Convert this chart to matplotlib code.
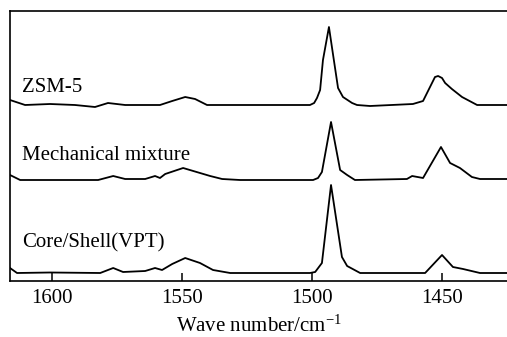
import matplotlib
matplotlib.use('Agg')
import matplotlib.pyplot as plt
import numpy as np

plt.rcParams['font.family'] = ['Liberation Serif', 'DejaVu Serif']
plt.rcParams['mathtext.fontset'] = 'custom'
plt.rcParams['mathtext.rm'] = 'Liberation Serif'
plt.rcParams['mathtext.it'] = 'Liberation Serif:italic'

# ZSM-5 spectrum (wavenumber, relative absorbance)
zsm_wn = [1616.2, 1610.4, 1600.8, 1591.2, 1583.5, 1578.5, 1571.9, 1558.5, 1553.8, 1548.8,
          1545.0, 1540.4, 1523.8, 1500.8, 1499.2, 1498.1, 1496.9, 1495.8, 1493.5, 1491.9,
          1490.0, 1488.1, 1484.6, 1482.7, 1477.7, 1461.2, 1457.3, 1452.7, 1451.5, 1450.0,
          1448.8, 1446.2, 1442.3, 1436.5, 1425.0]
zsm_abs = [5, 0, 1, 0, -2, 2, 0, 0, 4, 8,
           6, 0, 0, 0, 2, 7, 15, 45, 78, 50,
           17, 8, 2, 0, -1, 1, 4, 28, 29, 27,
           22, 16, 8, 0, 0]

# Mechanical mixture spectrum
mech_wn = [1616.2, 1612.3, 1582.3, 1576.5, 1571.9, 1564.2, 1560.4, 1558.5, 1556.5, 1549.6,
           1539.2, 1534.6, 1527.7, 1499.6, 1497.7, 1496.2, 1492.7, 1489.2, 1486.5, 1483.5,
           1463.5, 1461.5, 1457.3, 1450.4, 1446.9, 1443.1, 1438.5, 1435.4, 1425.0]
mech_abs = [5, 0, 0, 4, 1, 1, 4, 2, 6, 12,
            4, 1, 0, 0, 2, 8, 58, 10, 5, 0,
            1, 4, 2, 33, 17, 12, 3, 1, 1]

# Core/Shell(VPT) spectrum
core_wn = [1616.2, 1613.5, 1600.8, 1581.5, 1576.5, 1572.7, 1564.2, 1560.4, 1557.7, 1553.8,
           1548.8, 1543.1, 1538.1, 1531.5, 1500.8, 1498.8, 1496.2, 1492.7, 1488.5, 1486.5,
           1481.5, 1456.5, 1450.0, 1445.8, 1441.9, 1435.4, 1425.0]
core_abs = [5, 0, 0.5, 0, 5, 1, 2, 5, 3, 9,
            15, 10, 3, 0, 0, 1, 10, 88, 16, 7,
            0, 0, 18, 6, 4, 0, 0]

names = ['ZSM-5', 'Mechanical mixture', 'Core/Shell(VPT)']
offsets = [176, 101, 8]
label_y = [189, 121, 34]

fig = plt.figure(figsize=(5.07, 3.37), dpi=100)
ax = fig.add_axes([10 / 507, 56 / 337, 497 / 507, 270 / 337])

for wn, ab, off, name, ly in zip([zsm_wn, mech_wn, core_wn],
                                 [zsm_abs, mech_abs, core_abs],
                                 offsets, names, label_y):
    ax.plot(wn, np.array(ab) + off, color='black', linewidth=1.3)
    ax.text(1611.5, ly, name, fontsize=15, ha='left', va='baseline')

ax.set_xlim(1616.2, 1425)
ax.set_ylim(0, 270)
ax.set_xticks([1600, 1550, 1500, 1450])
ax.set_yticks([])
ax.tick_params(axis='x', direction='in', length=6, width=1.1, pad=6, labelsize=15)
ax.spines['right'].set_visible(False)
for s in ['left', 'top', 'bottom']:
    ax.spines[s].set_linewidth(1.2)
ax.set_xlabel(r'Wave number/cm$^{-1}$', fontsize=15, labelpad=5)

fig.savefig('out.png', dpi=100)
